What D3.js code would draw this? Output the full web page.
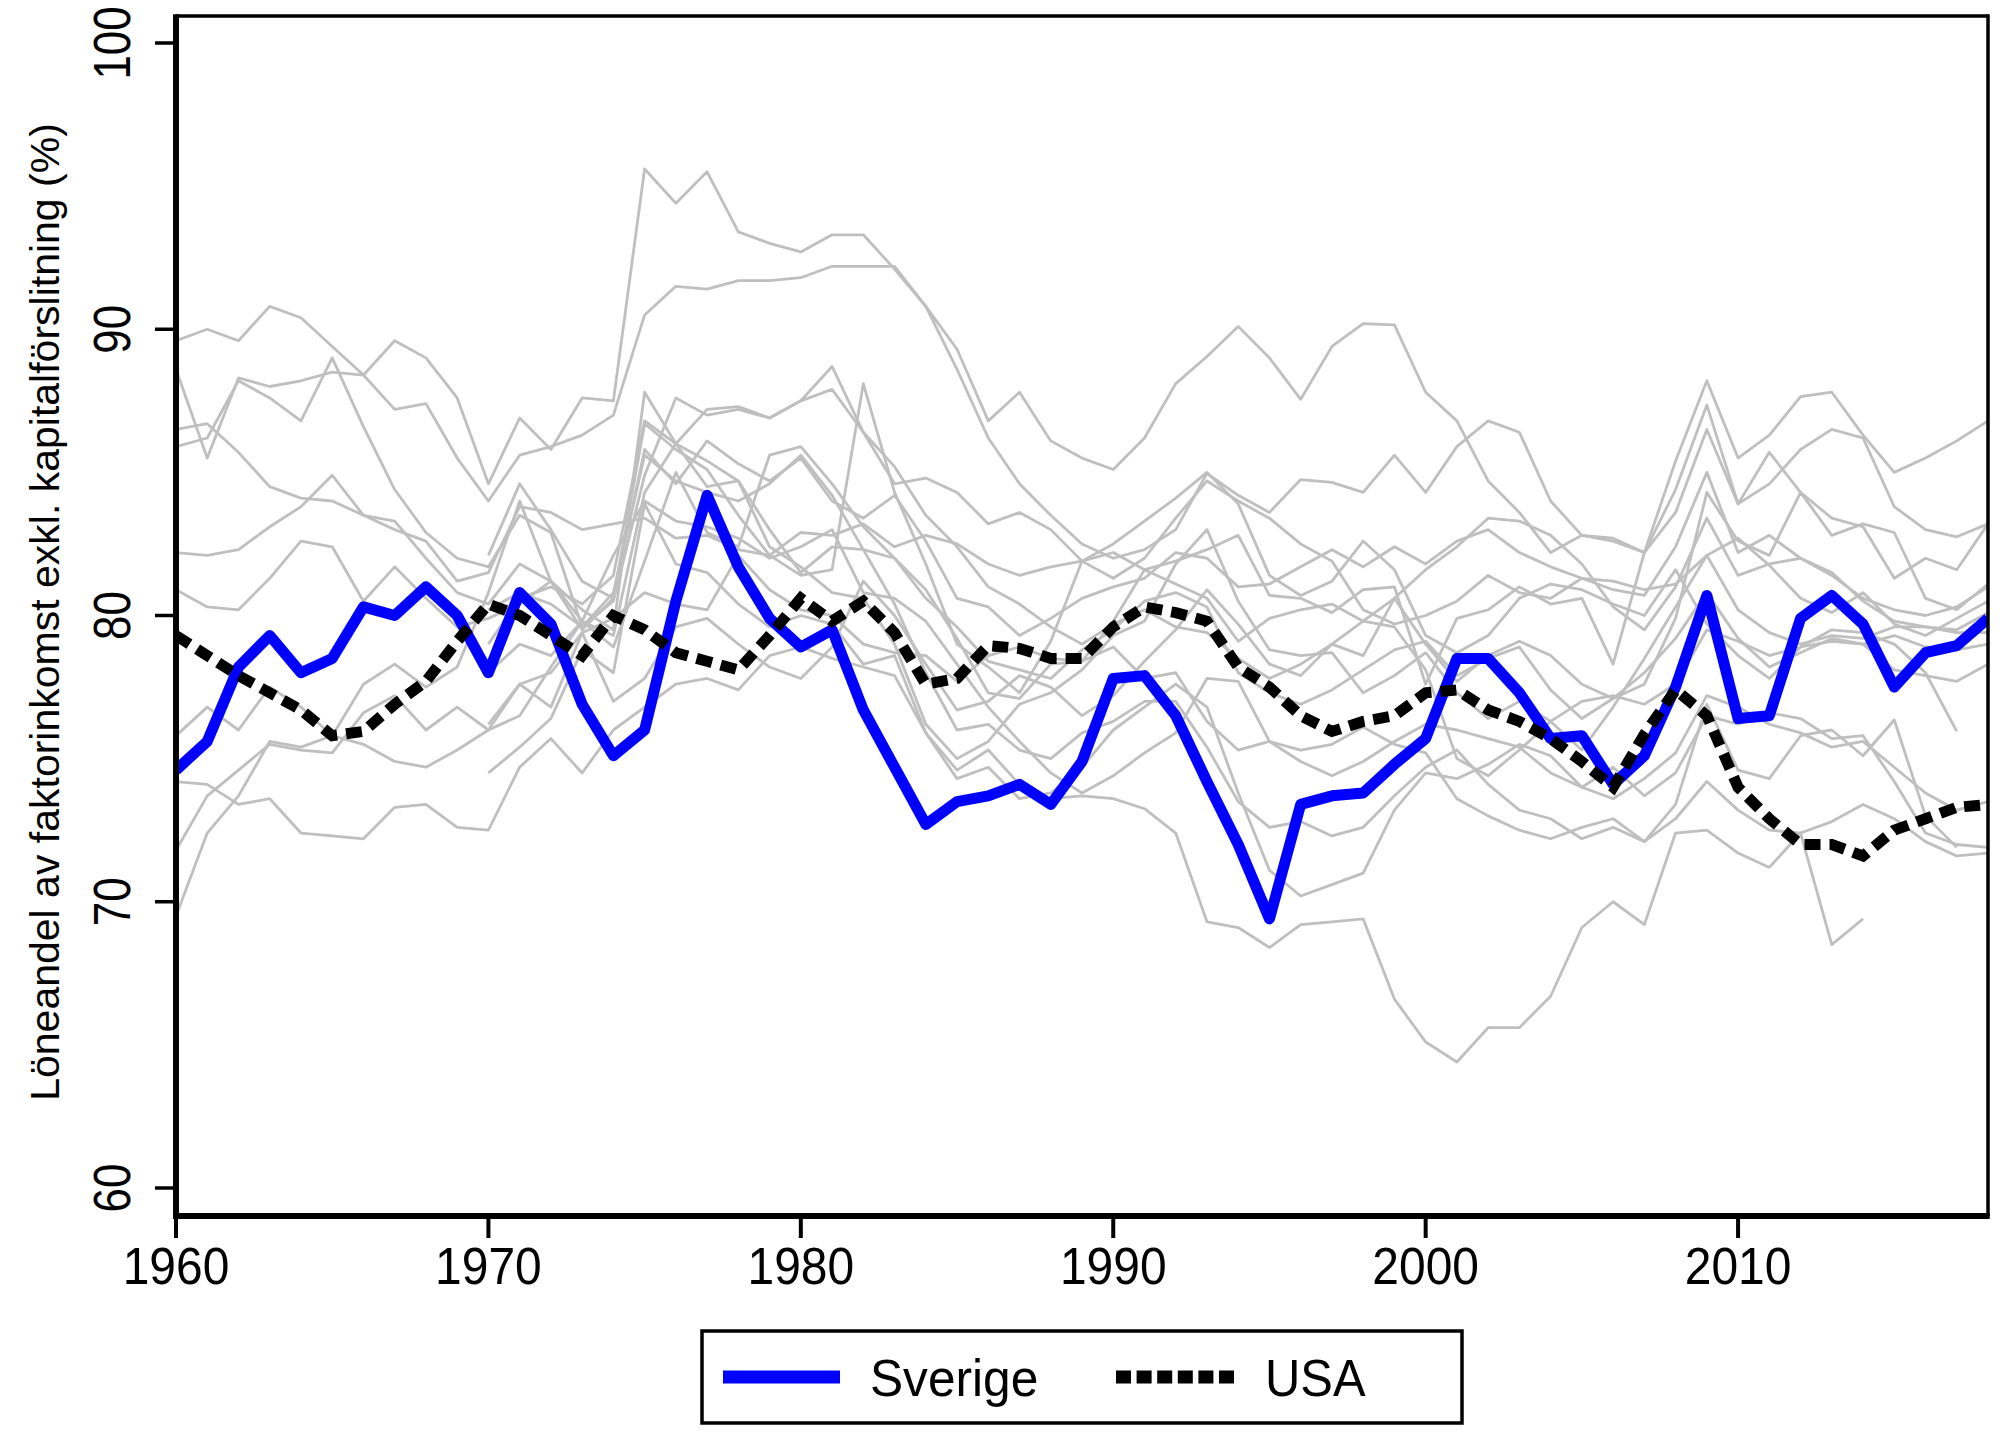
<!DOCTYPE html>
<html lang="sv">
<head>
<meta charset="UTF-8" />
<title>Löneandel</title>
<script src="https://d3js.org/d3.v7.min.js"></script>
<style>
  body { margin: 0; background: #fff; }
  svg { display: block; }
  text { font-family: "Liberation Sans", Arial, sans-serif; fill: #000; }
</style>
</head>
<body>
<svg id="chart" width="2003" height="1456"></svg>
<script>
const years = d3.range(1960, 2019);
const yTicks = [60, 70, 80, 90, 100];
const xTicks = [1960, 1970, 1980, 1990, 2000, 2010];
const N = null;

const sverige = [
  74.6, 75.6, 78.2, 79.3, 78.0, 78.5, 80.3, 80.0, 81.0, 80.0,
  78.0, 80.8, 79.7, 76.9, 75.1, 76.0, 80.5, 84.2, 81.7, 79.9,
  78.9, 79.5, 76.7, 74.7, 72.7, 73.5, 73.7, 74.1, 73.4, 74.9,
  77.8, 77.9, 76.5, 74.2, 72.0, 69.4, 73.4, 73.7, 73.8, 74.8,
  75.7, 78.5, 78.5, 77.3, 75.7, 75.8, 74.1, 75.1, 77.5, 80.7,
  76.4, 76.5, 79.9, 80.7, 79.7, 77.5, 78.7, 78.95, 79.9];

const usa = [
  79.3, 78.6, 77.9, 77.3, 76.7, 75.8, 75.95, 76.9, 77.7, 79.1,
  80.4, 80.0, 79.3, 78.6, 80.0, 79.5, 78.7, 78.4, 78.1, 79.3,
  80.6, 79.8, 80.5, 79.4, 77.6, 77.8, 78.95, 78.85, 78.5, 78.5,
  79.6, 80.3, 80.1, 79.8, 78.2, 77.5, 76.5, 75.95, 76.3, 76.5,
  77.3, 77.4, 76.7, 76.3, 75.7, 74.9, 74.0, 75.85, 77.4, 76.5,
  74.0, 72.9, 72.0, 72.0, 71.6, 72.5, 72.9, 73.3, 73.4];

// övriga länder (grå)
const land01 = [
  89.6, 90.0, 89.6, 90.8, 90.4, 89.4, 88.4, 89.6, 89.0, 87.6,
  84.6, 86.9, 85.8, 87.6, 87.5, 95.6, 94.4, 95.5, 93.4, 93.0,
  92.7, 93.3, 93.3, 92.1, 90.8, 89.3, 86.8, 87.8, 86.1, 85.5,
  85.1, 86.2, 88.1, 89.05, 90.1, 89.0, 87.55, 89.4, 90.2, 90.15,
  87.8, 86.8, 84.7, 83.6, 82.2, 82.8, 82.7, 82.2, 85.4, 88.2,
  85.5, 86.3, 87.65, 87.8, 86.3, 85.0, 85.5, 86.1, 86.8];
const land02 = [
  88.6, 85.5, 88.3, 88.0, 88.2, 88.5, 88.4, 87.2, 87.4, 85.5,
  84.0, 85.6, 85.9, 86.3, 87.0, 90.5, 91.5, 91.4, 91.7, 91.7,
  91.8, 92.2, 92.2, 92.2, 90.8, 88.6, 86.2, 84.6, 83.5, 82.5,
  82.0, 82.3, 83.0, 84.96, 84.2, 83.6, 84.75, 84.65, 84.3, 85.6,
  84.3, 85.9, 86.8, 86.4, 84.0, 82.8, 82.6, 82.2, 84.4, 87.35,
  83.9, 85.7, 84.3, 83.4, 83.1, 81.3, 82.0, 81.6, 83.2];
const land03 = [
  86.5, 86.7, 85.7, 84.5, 84.1, 84.0, 83.5, 83.3, 82.0, 80.8,
  80.4, 81.8, 81.2, 80.2, 79.5, 87.8, 86.0, 87.2, 87.3, 86.9,
  87.5, 88.7, 86.4, 84.6, 84.8, 84.3, 83.2, 83.6, 83.0, 81.9,
  82.2, 81.6, 81.9, 82.3, 82.8, 80.7, 80.6, 80.1, 80.9, 81.0,
  77.6, 79.9, 80.2, 81.0, 80.4, 80.6, 78.3, 82.2, 83.6, 86.5,
  83.9, 84.6, 85.8, 86.5, 86.2, 83.8, 83.0, 82.75, 83.2];
const land04 = [
  85.9, 86.2, 88.2, 87.6, 86.8, 89.0, 86.6, 84.4, 82.9, 82.0,
  81.7, 83.5, 82.9, 79.6, 80.8, 85.6, 84.7, 84.3, 84.0, 84.6,
  85.6, 84.2, 82.3, 82.0, 80.6, 79.6, 78.4, 78.1, 77.8, 78.8,
  79.5, 80.5, 80.8, 80.3, 78.0, 77.3, 76.9, 77.4, 78.1, 78.8,
  79.1, 77.9, 78.5, 78.9, 77.4, 76.4, 77.1, 77.6, 79.9, 84.3,
  82.6, 82.1, 84.3, 82.8, 83.2, 82.9, 80.6, 80.2, 81.1];
const land05 = [
  82.2, 82.1, 82.3, 83.1, 83.8, 84.9, 83.5, 83.0, 82.6, 81.2,
  81.5, 83.8, 83.6, 83.0, 83.2, 83.4, 82.7, 82.8, 82.3, 82.1,
  82.9, 82.8, 83.2, 82.4, 82.8, 82.5, 81.8, 81.4, 81.7, 81.9,
  81.3, 82.0, 83.4, 84.7, 84.0, 83.4, 82.5, 81.9, 80.2, 79.7,
  80.0, 80.5, 81.4, 80.8, 80.6, 81.3, 81.2, 80.9, 81.1, 82.1,
  82.7, 81.75, 80.6, 80.1, 80.8, 79.7, 79.3, 79.9, 80.5];
const land06 = [
  80.9, 80.3, 80.2, 81.3, 82.6, 82.4, 80.5, 81.7, 80.6, 79.6,
  79.9, 80.4, 81.2, 79.5, 80.6, 86.7, 85.8, 85.1, 83.5, 82.1,
  81.4, 81.6, 88.1, 84.3, 81.8, 79.0, 78.2, 77.3, 79.1, 81.9,
  82.5, 83.3, 84.1, 85.0, 83.9, 81.4, 80.7, 81.2, 82.6, 81.6,
  79.3, 78.7, 79.3, 80.6, 81.1, 80.9, 80.4, 80.0, 81.6, 79.7,
  78.6, 77.8, 78.9, 79.5, 79.4, 79.0, 78.0, 75.95, N];
const land07 = [
  75.8, 76.8, 76.0, 77.5, 76.8, 75.8, 77.6, 78.3, 77.5, 78.2,
  80.8, 84.0, 81.2, 79.8, 79.3, 84.3, 86.0, 85.4, 84.7, 82.4,
  81.7, 80.8, 80.6, 79.0, 76.2, 75.0, 75.6, 76.9, 77.3, 78.1,
  79.3, 79.8, 81.8, 83.0, 80.5, 78.8, 78.6, 78.7, 77.3, 77.9,
  78.7, 77.3, 76.4, 77.0, 76.3, 75.3, 76.8, 78.5, 80.3, 82.1,
  80.2, 79.4, 79.0, 79.3, 79.2, 79.6, 79.6, 79.4, 79.4];
const land08 = [
  74.2, 74.1, 73.4, 73.6, 72.4, 72.3, 72.2, 73.3, 73.4, 72.6,
  72.5, 74.7, 75.7, 74.5, 76.0, 76.8, 77.6, 77.8, 77.4, 78.6,
  78.9, 78.5, 78.2, 77.9, 75.9, 74.6, 75.3, 74.1, 73.6, 73.7,
  73.6, 73.25, 72.4, 69.3, 69.1, 68.4, 69.2, 69.3, 69.4, 66.6,
  65.1, 64.4, 65.6, 65.6, 66.7, 69.1, 70.0, 69.2, 72.4, 72.5,
  71.7, 71.2, 72.4, 72.8, 73.4, 72.9, 72.1, 71.6, 71.7];
const land09 = [
  71.8, 73.7, 74.6, 75.5, 75.3, 75.2, 76.6, 77.2, 76.0, 76.8,
  76.0, 77.6, 78.0, 79.4, 77.0, 77.8, 79.6, 79.9, 79.0, 78.2,
  77.8, 78.9, 81.2, 80.0, 78.3, 76.7, 77.0, 77.9, 77.5, 76.5,
  77.2, 78.4, 79.5, 80.9, 79.7, 78.3, 77.9, 79.0, 79.8, 79.6,
  78.1, 75.0, 74.4, 75.3, 76.3, 77.0, 77.2, 76.9, 77.6, 79.5,
  79.1, 78.6, 78.9, 79.1, 79.0, 78.1, 77.9, 77.7, 78.3];
const land10 = [
  69.5, 72.4, 73.7, 75.6, 75.4, 75.8, 75.5, 74.9, 74.7, 75.3,
  76.0, 76.5, 78.2, 79.8, 82.1, 84.0, 83.3, 83.1, 82.7, 82.0,
  82.4, 83.0, 80.8, 80.6, 79.8, 78.3, 76.8, 75.6, 74.5, 73.8,
  74.4, 75.2, 75.9, 77.8, 77.7, 75.6, 75.3, 75.5, 76.1, 75.5,
  75.2, 73.6, 73.0, 72.5, 72.2, 72.6, 72.9, 72.1, 73.4, 76.9,
  74.6, 74.3, 75.8, 76.0, 75.1, 76.35, 73.0, 71.9, N];
const land11 = [
  N, N, N, N, N, N, N, N, N, N,
  80.2, 80.8, 80.4, 79.6, 80.5, 84.9, 87.6, 87.0, 87.2, 86.9,
  87.5, 87.9, 86.4, 85.2, 83.5, 82.4, 81.0, 80.4, 79.6, 79.0,
  79.7, 80.2, 79.6, 79.4, 78.5, 77.8, 78.3, 79.0, 78.6, 80.6,
  79.0, 77.7, 78.6, 79.1, 78.6, 77.6, 77.1, 78.0, 79.2, 80.8,
  79.2, 78.2, 78.7, 79.2, 79.0, 79.3, 78.9, 78.8, 79.0];
const land12 = [
  N, N, N, N, N, N, N, N, N, N,
  78.0, 79.0, 78.6, 79.8, 78.9, 81.9, 85.0, 82.9, 82.4, 85.6,
  85.9, 84.6, 83.1, 82.0, 80.9, 79.2, 77.3, 77.1, 78.3, 78.4,
  78.9, 77.8, 78.0, 76.3, 75.3, 75.6, 74.9, 74.4, 74.9, 75.6,
  76.2, 76.0, 75.7, 75.4, 74.5, 74.0, 73.6, 74.3, 75.2, 77.2,
  76.8, 76.2, 75.9, 75.4, 75.6, 74.7, 73.8, 73.2, 73.5];
const land13 = [
  N, N, N, N, N, N, N, N, N, N,
  76.2, 77.6, 76.8, 79.4, 79.9, 80.8, 80.4, 80.2, 82.1, 80.9,
  80.2, 80.0, 79.0, 78.7, 78.6, 77.7, 78.6, 78.9, 78.5, 78.4,
  79.8, 81.6, 81.1, 80.6, 79.1, 79.9, 80.2, 80.4, 79.8, 80.6,
  81.6, 82.4, 83.4, 83.3, 82.8, 81.8, 80.3, 79.5, 81.0, 83.4,
  81.4, 81.8, 82.0, 81.5, 80.5, 79.8, 79.6, 79.5, 80.1];
const land14 = [
  N, N, N, N, N, N, N, N, N, N,
  74.5, 75.4, 76.4, 78.8, 78.0, 83.9, 81.8, 81.5, 80.4, 79.6,
  80.0, 79.7, 78.3, 78.6, 75.9, 74.3, 74.7, 73.6, 73.8, 74.7,
  76.0, 76.8, 77.6, 76.8, 73.8, 71.1, 70.2, 70.6, 71.0, 73.2,
  74.5, 74.3, 74.8, 75.5, 75.1, 74.0, 74.7, 73.7, 74.5, 76.5,
  76.2, 76.6, 76.4, 75.7, 75.8, 74.2, 72.4, 72.0, 71.9];
const land15 = [
  N, N, N, N, N, N, N, N, N, N,
  79.0, 80.6, 81.0, 80.4, 81.4, 86.8, 86.0, 84.5, 84.7, 83.0,
  81.5, 82.4, 82.3, 80.4, 78.0, 76.0, 76.2, 75.3, 75.0, 75.9,
  76.3, 77.0, 77.0, 75.4, 73.5, 72.6, 72.8, 72.3, 72.6, 73.7,
  74.7, 75.3, 74.1, 73.2, 72.9, 72.2, 72.6, 72.1, 72.9, 74.2,
  73.2, 72.5, 72.4, 68.5, 69.4, N, N, N, N];
const land16 = [
  N, N, N, N, N, N, N, N, N, N,
  82.1, 84.6, 83.0, 81.2, 80.6, 85.8, 84.6, 86.1, 85.3, 84.7,
  85.5, 84.0, 83.4, 84.2, 82.6, 80.6, 80.3, 79.3, 79.9, 80.6,
  81.0, 81.3, 82.2, 82.0, 81.0, 81.1, 81.7, 82.3, 81.7, 82.4,
  81.8, 82.6, 83.0, 82.2, 81.7, 81.3, 80.9, 80.7, 82.4, 85.0,
  82.2, 82.8, 82.0, 81.4, 80.6, 80.2, 80.0, 80.3, 81.0];

const greyLines = [land01, land02, land03, land04, land05, land06, land07, land08,
  land09, land10, land11, land12, land13, land14, land15, land16];

const legendLabels = ["Sverige", "USA"];
const yTitle = "Löneandel av faktorinkomst exkl. kapitalförslitning (%)";

const svg = d3.select("#chart");
const plotLeft = 176, plotRight = 1988, plotTop = 16, plotBottom = 1216;

const x = d3.scaleLinear().domain([1960, 2018]).range([plotLeft, plotRight]);
const y = d3.scaleLinear().domain([60, 100]).range([1188, 43]);

svg.append("rect").attr("width", 2003).attr("height", 1456).attr("fill", "#fff");

svg.append("clipPath").attr("id", "plot")
  .append("rect").attr("x", plotLeft).attr("y", plotTop)
  .attr("width", plotRight - plotLeft).attr("height", plotBottom - plotTop);

const line = d3.line()
  .defined(d => d != null)
  .x((d, i) => x(years[i]))
  .y(d => y(d));

const g = svg.append("g").attr("clip-path", "url(#plot)");

greyLines.forEach(vals => {
  g.append("path")
    .attr("d", line(vals))
    .attr("fill", "none")
    .attr("stroke", "#bfbfbf")
    .attr("stroke-width", 2.8)
    .attr("stroke-linejoin", "round");
});

g.append("path")
  .attr("d", line(sverige))
  .attr("fill", "none")
  .attr("stroke", "#0000ff")
  .attr("stroke-width", 11)
  .attr("stroke-linejoin", "round");

g.append("path")
  .attr("d", line(usa))
  .attr("fill", "none")
  .attr("stroke", "#000")
  .attr("stroke-width", 11)
  .attr("stroke-dasharray", "16,9");

// ram
svg.append("line").attr("x1", plotLeft).attr("x2", plotRight).attr("y1", plotTop).attr("y2", plotTop)
  .attr("stroke", "#000").attr("stroke-width", 3.5);
svg.append("line").attr("x1", plotRight).attr("x2", plotRight).attr("y1", plotTop - 1.75).attr("y2", plotBottom)
  .attr("stroke", "#000").attr("stroke-width", 3.5);
svg.append("line").attr("x1", plotLeft).attr("x2", plotLeft).attr("y1", plotTop - 1.75).attr("y2", plotBottom + 3)
  .attr("stroke", "#000").attr("stroke-width", 6);
svg.append("line").attr("x1", plotLeft - 3).attr("x2", plotRight + 1.75).attr("y1", plotBottom).attr("y2", plotBottom)
  .attr("stroke", "#000").attr("stroke-width", 6);

// y-axel
svg.selectAll(".ytick").data(yTicks).enter().append("line")
  .attr("x1", 155).attr("x2", plotLeft)
  .attr("y1", d => y(d)).attr("y2", d => y(d))
  .attr("stroke", "#000").attr("stroke-width", 3.5);

svg.selectAll(".ylab").data(yTicks).enter().append("text")
  .attr("transform", d => `translate(130,${y(d)}) scale(1,0.86) rotate(-90)`)
  .attr("text-anchor", "middle")
  .attr("font-size", 51)
  .text(d => d);

// x-axel
svg.selectAll(".xtick").data(xTicks).enter().append("line")
  .attr("x1", d => x(d)).attr("x2", d => x(d))
  .attr("y1", plotBottom).attr("y2", 1238)
  .attr("stroke", "#000").attr("stroke-width", 4);

svg.selectAll(".xlab").data(xTicks).enter().append("text")
  .attr("transform", d => `translate(${x(d)},1284) scale(0.94,1)`)
  .attr("text-anchor", "middle")
  .attr("font-size", 51)
  .text(d => d);

svg.append("text")
  .attr("transform", "translate(59,612) rotate(-90)")
  .attr("text-anchor", "middle")
  .attr("font-size", 41)
  .text(yTitle);

// legend
svg.append("rect")
  .attr("x", 702).attr("y", 1331).attr("width", 760).attr("height", 92)
  .attr("fill", "none").attr("stroke", "#000").attr("stroke-width", 3.5);

svg.append("line").attr("x1", 723).attr("x2", 840).attr("y1", 1377).attr("y2", 1377)
  .attr("stroke", "#0000ff").attr("stroke-width", 13);
svg.append("line").attr("x1", 1116).attr("x2", 1234).attr("y1", 1377).attr("y2", 1377)
  .attr("stroke", "#000").attr("stroke-width", 13).attr("stroke-dasharray", "15,5.6");

svg.append("text").attr("transform", "translate(870,1396) scale(0.955,1)")
  .attr("font-size", 52).text(legendLabels[0]);
svg.append("text").attr("transform", "translate(1265,1396) scale(0.94,1)")
  .attr("font-size", 52).text(legendLabels[1]);
</script>
</body>
</html>
